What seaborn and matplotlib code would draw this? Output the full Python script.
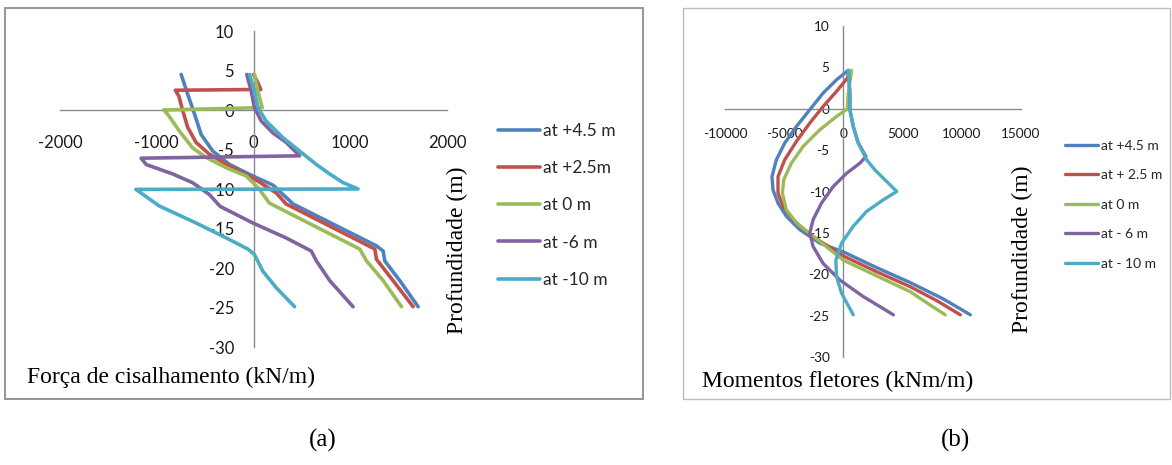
import matplotlib
matplotlib.use("Agg")
import matplotlib.pyplot as plt
from matplotlib.patches import Rectangle
import pandas as pd
import seaborn as sns

# ---------------- Shear force (kN/m) vs depth (m) ----------------
shear_labels = ["at +4.5 m", "at +2.5m", "at 0 m", "at -6 m", "at -10 m"]

shear_p45_depth = [4.5, 2.0, -0.5, -3.1, -5.2, -6.9, -8.35, -9.5, -11.9, -17.2, -17.85, -19.1, -21.6, -24.9]
shear_p45_value = [-748, -680, -610, -541, -421, -248, -7, 200, 410, 1271, 1340, 1357, 1512, 1702]

shear_p25_depth = [4.5, 3.6, 2.6, 2.5, 1.77, -0.1, -2.2, -4.1, -5.6, -7.1, -8.6, -10.5, -11.9, -17.6, -18.9, -21.6, -24.9]
shear_p25_value = [0, 40, 75, -808, -772, -731, -680, -594, -456, -248, -7, 235, 338, 1254, 1271, 1443, 1650]

shear_0_depth = [4.5, 2.4, 0.3, 0.0, -0.55, -2.65, -4.8, -6.0, -7.3, -8.35, -9.8, -11.8, -17.6, -19.1, -21.6, -24.9]
shear_0_value = [10, 45, 90, -928, -886, -767, -629, -490, -283, -76, 45, 166, 1098, 1168, 1340, 1530]

shear_m6_depth = [4.5, 2.4, 0.3, -1.4, -2.9, -4.1, -5.8, -6.1, -6.9, -8.1, -9.2, -10.7, -12.2, -14.3, -16.2, -17.85, -19.1, -21.6, -24.9]
shear_m6_value = [-69, -24, 10, 80, 200, 338, 477, -1161, -1109, -834, -630, -456, -345, -7, 338, 597, 650, 788, 1029]

shear_m10_depth = [4.5, 2.4, 0.3, -1.4, -3.5, -5.2, -6.9, -8.1, -9.2, -10.0, -10.05, -10.5, -12.15, -14.3, -16.4, -17.6, -18.3, -20.4, -22.5, -24.9]
shear_m10_value = [-41, 10, 45, 131, 304, 477, 650, 788, 926, 1081, -1216, -1164, -974, -594, -248, -59, 10, 96, 235, 425]

# ---------------- Bending moment (kNm/m) vs depth (m) ----------------
moment_labels = ["at +4.5 m", "at + 2.5 m", "at 0 m", "at - 6 m", "at - 10 m"]

moment_p45_depth = [4.64, 3.5, 1.9, -0.12, -2.14, -4.15, -6.17, -8.2, -9.8, -11.4, -13.0, -14.6, -16.25, -17.3, -19.2, -21.0, -23.0, -24.9]
moment_p45_value = [410, -579, -1709, -2839, -3969, -4958, -5664, -6032, -5947, -5523, -4816, -3687, -1992, 0, 2810, 5635, 8460, 10720]

moment_p25_depth = [4.5, 3.7, 2.1, 0.28, -1.73, -3.95, -6.17, -8.2, -10.2, -11.8, -13.4, -15.2, -17.8, -19.7, -21.5, -23.2, -24.9]
moment_p25_value = [480, 332, -579, -1709, -2839, -3969, -4958, -5523, -5523, -5100, -4252, -2839, 0, 2810, 5635, 7900, 9875]

moment_0_depth = [4.64, 1.9, -0.04, -0.93, -2.54, -4.56, -6.57, -8.6, -10.2, -12.2, -13.8, -15.4, -18.3, -20.2, -22.1, -23.6, -24.9]
moment_0_value = [692, 410, 325, -579, -1992, -3405, -4393, -5043, -5156, -4816, -3969, -2557, 0, 2810, 5635, 7200, 8601]

moment_m6_depth = [4.64, 1.9, -0.12, -2.14, -4.15, -5.77, -6.57, -7.8, -9.4, -11.4, -13.4, -15.0, -16.65, -18.7, -20.7, -22.7, -24.9]
moment_m6_value = [410, 551, 551, 833, 1257, 1907, 1398, 268, -862, -1850, -2557, -2839, -2557, -1709, -297, 1681, 4223]

moment_m10_depth = [4.64, 1.9, -0.12, -2.14, -4.15, -6.17, -7.4, -8.6, -10.0, -11.0, -12.4, -14.2, -16.25, -18.3, -20.3, -22.3, -24.9]
moment_m10_value = [410, 551, 551, 833, 1257, 1963, 2670, 3517, 4506, 3376, 1963, 833, -155, -636, -579, -155, 833]

series_colors = ["#4F81BD", "#C0504D", "#9BBB59", "#8064A2", "#4BACC6"]


def long_table(depths, values, names):
    frames = [pd.DataFrame({"depth": d, "value": v, "serie": n})
              for d, v, n in zip(depths, values, names)]
    return pd.concat(frames, ignore_index=True)


shear_df = long_table(
    [shear_p45_depth, shear_p25_depth, shear_0_depth, shear_m6_depth, shear_m10_depth],
    [shear_p45_value, shear_p25_value, shear_0_value, shear_m6_value, shear_m10_value],
    shear_labels)
moment_df = long_table(
    [moment_p45_depth, moment_p25_depth, moment_0_depth, moment_m6_depth, moment_m10_depth],
    [moment_p45_value, moment_p25_value, moment_0_value, moment_m6_value, moment_m10_value],
    moment_labels)

sns.set_theme(style="white")
plt.rcParams["font.family"] = ["Lato", "DejaVu Sans"]
serif = ["Liberation Serif", "DejaVu Serif"]

W, H = 1172, 465
fig = plt.figure(figsize=(W / 100, H / 100), dpi=100)


def fx(px):
    return px / W


def fy(py):
    return 1 - py / H


ax1 = fig.add_axes([fx(60), fy(347), (447 - 60) / W, (347 - 31) / H])
ax2 = fig.add_axes([fx(725), fy(357), (1021 - 725) / W, (357 - 26) / H])


def draw(ax, df, names, lw):
    sns.lineplot(data=df, x="value", y="depth", hue="serie", hue_order=names,
                 palette=series_colors, sort=False, estimator=None,
                 linewidth=lw, ax=ax)
    for ln in ax.lines:
        ln.set_zorder(3)
        ln.set_solid_capstyle("round")
        ln.set_solid_joinstyle("round")


def style_axes(ax, xlim, xticks, ylim, yticks, fs, xpad, ypad):
    ax.set_xlim(xlim)
    ax.set_ylim(ylim)
    ax.set_xticks(xticks)
    ax.set_yticks(yticks)
    ax.set_xticklabels([str(t) for t in xticks])
    ax.set_yticklabels([str(t) for t in yticks])
    for s in ["top", "right"]:
        ax.spines[s].set_visible(False)
    for s in ["left", "bottom"]:
        ax.spines[s].set_position(("data", 0))
        ax.spines[s].set_color("#8a8a8a")
        ax.spines[s].set_linewidth(1.0)
    ax.tick_params(axis="x", length=0, pad=xpad, labelsize=fs, labelcolor="#1a1a1a")
    ax.tick_params(axis="y", length=0, pad=ypad, labelsize=fs, labelcolor="#1a1a1a")
    ax.set_facecolor("none")
    ax.grid(False)
    ax.set_xlabel("")
    ax.set_ylabel("")


draw(ax1, shear_df, shear_labels, 2.6)
draw(ax2, moment_df, moment_labels, 2.4)

style_axes(ax1, (-2000, 2000), [-2000, -1000, 0, 1000, 2000],
           (-30, 10), [10, 5, 0, -5, -10, -15, -20, -25, -30], 12, 18, 14)
style_axes(ax2, (-10000, 15000), [-10000, -5000, 0, 5000, 10000, 15000],
           (-30, 10), [10, 5, 0, -5, -10, -15, -20, -25, -30], 9.8, 14, 10)

h1, l1 = ax1.get_legend_handles_labels()
ax1.legend(h1, l1, loc="upper left", bbox_to_anchor=(fx(498), fy(123)),
           bbox_transform=fig.transFigure, frameon=False, fontsize=12.5,
           handlelength=2.4, handletextpad=0.2, labelspacing=1.22,
           borderpad=0, borderaxespad=0)
h2, l2 = ax2.get_legend_handles_labels()
ax2.legend(h2, l2, loc="upper left", bbox_to_anchor=(fx(1065), fy(139.5)),
           bbox_transform=fig.transFigure, frameon=False, fontsize=10,
           handlelength=2.4, handletextpad=0.2, labelspacing=1.26,
           borderpad=0, borderaxespad=0)

# Chart frames
fig.patches.append(Rectangle((fx(5), fy(399)), (643 - 5) / W, (399 - 8) / H,
                             transform=fig.transFigure, fill=False,
                             edgecolor="#8c8c8c", linewidth=1.3))
fig.patches.append(Rectangle((fx(683), fy(399)), (1170 - 683) / W, (399 - 8) / H,
                             transform=fig.transFigure, fill=False,
                             edgecolor="#bdbdbd", linewidth=1.0))

# Titles and axis names
fig.text(fx(27), fy(383), "Força de cisalhamento (kN/m)", family=serif,
         fontsize=17, ha="left", va="baseline", color="black")
fig.text(fx(702), fy(387), "Momentos fletores (kNm/m)", family=serif,
         fontsize=17, ha="left", va="baseline", color="black")
fig.text(fx(457), fy(250), "Profundidade (m)", family=serif, fontsize=17,
         rotation=90, ha="center", va="center", color="black")
fig.text(fx(1022), fy(249), "Profundidade (m)", family=serif, fontsize=17,
         rotation=90, ha="center", va="center", color="black")
fig.text(fx(323), fy(440), "(a)", family=serif, fontsize=18,
         ha="center", va="center", color="black")
fig.text(fx(955), fy(440), "(b)", family=serif, fontsize=18,
         ha="center", va="center", color="black")

fig.savefig("out.png", dpi=100, facecolor="white")
